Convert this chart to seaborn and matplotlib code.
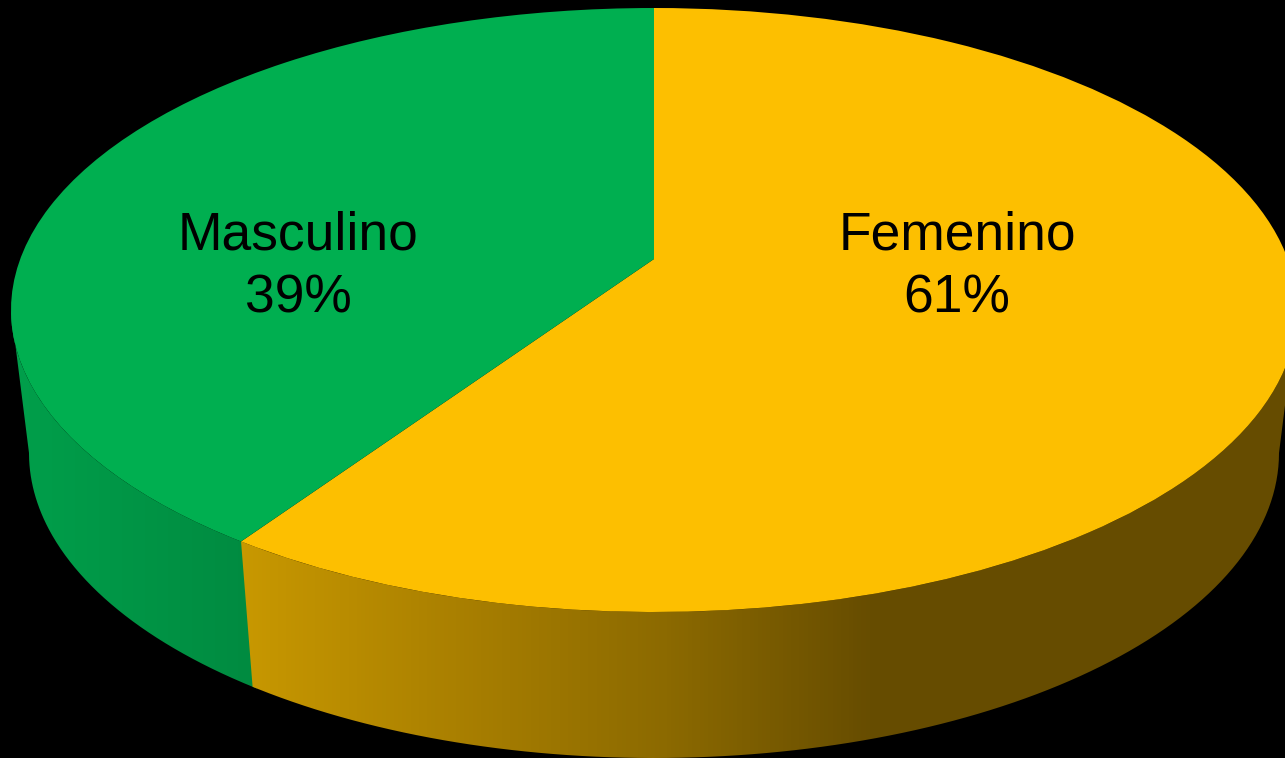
import numpy as np
import matplotlib
matplotlib.use('Agg')
import matplotlib.pyplot as plt
from matplotlib.path import Path
from matplotlib.patches import PathPatch
import seaborn as sns

# datos
categorias = ['Femenino', 'Masculino']
valores = [61.1, 38.9]
colores_top = ['#FDBF00', '#00AF50']
# tonos del lateral (izquierda -> derecha)
lateral_fem = ['#C89800', '#AA8000', '#8C6A00', '#664C00', '#664C00', '#664C00']
lateral_masc = ['#00A04B', '#008A40']
pos_etiquetas = [(957, 267), (298, 267)]

CX, CY, RX, RY = 654, 310, 643, 302
CX2, CY2, RX2, RY2 = 654, 453, 625, 305
APEX = (654, 259)

sns.set_theme(style='white')
plt.rcParams['font.family'] = ['Liberation Sans', 'DejaVu Sans']

fig, ax = plt.subplots(figsize=(12.85, 7.58), dpi=100, facecolor='black')
fig.subplots_adjust(0, 0, 1, 1)
ax.set_facecolor('black')

wedges, _ = ax.pie(valores, colors=colores_top, startangle=90, counterclock=False,
                   wedgeprops={'linewidth': 0, 'zorder': 5})

# cara superior: elipse con el vertice desplazado (perspectiva)
for w in wedges:
    p = w.get_path()
    v = p.vertices.copy()
    centro = np.hypot(v[:, 0], v[:, 1]) < 1e-6
    v[:, 0] = CX + RX * v[:, 0]
    v[:, 1] = CY - RY * v[:, 1]
    v[centro] = APEX
    p.vertices = v


def lateral(t1, t2, tonos, x0, x1, z):
    # franja visible entre la elipse superior y la inferior
    t = np.radians(np.linspace(t1, t2, 200))
    sup = np.c_[CX + RX * np.cos(t), CY - RY * np.sin(t)]
    inf = np.c_[CX2 + RX2 * np.cos(t), CY2 - RY2 * np.sin(t)]
    verts = np.vstack([sup, inf[::-1], sup[:1]])
    cmap = sns.blend_palette(tonos, as_cmap=True)
    im = ax.imshow(np.linspace(0, 1, 256)[None, :], cmap=cmap, aspect='auto',
                   extent=(x0, x1, 758, 0), zorder=z)
    im.set_clip_path(PathPatch(Path(verts), transform=ax.transData))


# angulo del limite entre porciones, desde los propios valores
limite = 90 - 360 * valores[0] / sum(valores) + 360
lateral(180, limite + 0.5, lateral_masc, 5, 262, 2)
lateral(limite, 360, lateral_fem, 241, 1300, 3)

for nombre, val, (x, y) in zip(categorias, valores, pos_etiquetas):
    ax.text(x, y, f'{nombre}\n{val:.0f}%', ha='center', va='center', fontsize=38.4,
            color='black', linespacing=1.33, zorder=6)

ax.set_xlim(0, 1285)
ax.set_ylim(758, 0)
ax.set_aspect('auto')
ax.axis('off')

plt.savefig('out.png', dpi=100, facecolor='black')
